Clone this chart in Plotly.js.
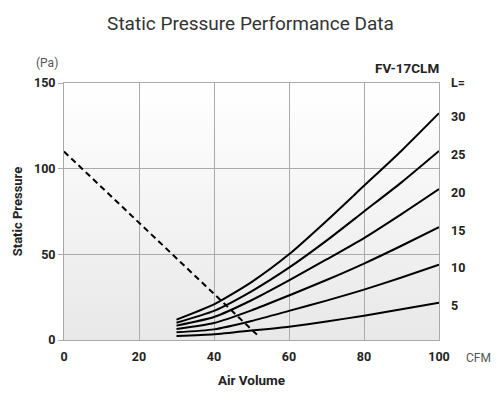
<!DOCTYPE html>
<html>
<head>
<meta charset="utf-8">
<script src="https://cdn.plot.ly/plotly-3.0.1.min.js"></script>
<style>html,body{margin:0;padding:0;background:#fff;}#chart{width:501px;height:394px;}</style>
</head>
<body>
<div id="chart"></div>
<script>
// Air volume (CFM) sample points
const airVolume = [30, 40, 50, 60, 70, 80, 90, 100];
// Static pressure (Pa) for each duct length L
const lengthLabels = ["30", "25", "20", "15", "10", "5"];
const pL30 = [11.9, 20.8, 33.8, 50.0, 69.5, 90.0, 110.5, 132.4];
const pL25 = [10.1, 17.0, 28.4, 42.2, 58.0, 75.0, 92.0, 110.3];
const pL20 = [8.4, 13.4, 23.2, 34.8, 47.0, 59.5, 73.5, 88.1];
const pL15 = [6.4, 9.9, 17.3, 26.0, 35.0, 44.6, 55.0, 65.9];
const pL10 = [4.5, 6.2, 11.1, 17.0, 23.0, 29.4, 36.5, 44.0];
const pL5  = [2.3, 3.3, 5.5, 7.8, 10.8, 14.2, 18.0, 21.8];
// Fan performance (dashed line)
const fanX = [0, 52];
const fanY = [110, 2];
// Axis ticks
const xTicks = [0, 20, 40, 60, 80, 100];
const yTicks = [0, 50, 100, 150];

const curves = [pL30, pL25, pL20, pL15, pL10, pL5];
const FONT = "Roboto, 'DejaVu Sans', sans-serif";

const traces = curves.map((ys, i) => ({
  x: airVolume, y: ys, type: 'scatter', mode: 'lines',
  line: {color: '#000', width: 2, shape: 'spline', smoothing: 0.6},
  hoverinfo: 'skip', showlegend: false
}));
traces.push({
  x: fanX, y: fanY, type: 'scatter', mode: 'lines',
  line: {color: '#000', width: 2, dash: '6px,4px'},
  hoverinfo: 'skip', showlegend: false
});

const svg = '<svg xmlns="http://www.w3.org/2000/svg" width="100" height="100" preserveAspectRatio="none">' +
  '<defs><linearGradient id="g" x1="0" y1="0" x2="0" y2="1">' +
  '<stop offset="0" stop-color="#ffffff"/><stop offset="0.15" stop-color="#fcfcfc"/>' +
  '<stop offset="1" stop-color="#e8e8e8"/></linearGradient></defs>' +
  '<rect width="100" height="100" fill="url(#g)"/></svg>';
const bgSrc = 'data:image/svg+xml;charset=utf-8,' + encodeURIComponent(svg);

const annotations = [
  {text: '(Pa)', xref: 'paper', yref: 'paper', x: -0.045, y: 1.0, yshift: 20, xanchor: 'center', yanchor: 'middle', showarrow: false, font: {family: FONT, size: 12, color: '#555'}},
  {text: '<b>FV-17CLM</b>', xref: 'paper', yref: 'paper', x: 1.0, xshift: 2, y: 1.0, yshift: 15, xanchor: 'right', yanchor: 'middle', showarrow: false, font: {family: FONT, size: 13.5, color: '#222'}},
  {text: '<b>L=</b>', xref: 'paper', yref: 'paper', x: 1.0, xshift: 10, y: 1.0, yshift: 1, xanchor: 'left', yanchor: 'middle', showarrow: false, font: {family: FONT, size: 12.5, color: '#222'}},
  {text: 'CFM', xref: 'paper', yref: 'paper', x: 1.0, xshift: 25, y: 0, yshift: -18, xanchor: 'left', yanchor: 'middle', showarrow: false, font: {family: FONT, size: 12, color: '#555'}}
];
curves.forEach((ys, i) => {
  annotations.push({
    text: '<b>' + lengthLabels[i] + '</b>', xref: 'paper', yref: 'y',
    x: 1.0, xshift: 10, y: ys[ys.length - 1], yshift: -3,
    xanchor: 'left', yanchor: 'middle', showarrow: false,
    font: {family: FONT, size: 12.5, color: '#222'}
  });
});

const layout = {
  width: 501, height: 394,
  margin: {l: 64, r: 62, t: 83, b: 54},
  paper_bgcolor: '#ffffff',
  plot_bgcolor: 'rgba(0,0,0,0)',
  font: {family: FONT, color: '#222'},
  title: {text: 'Static Pressure Performance Data', x: 0.5, xanchor: 'center', y: 0.94, yanchor: 'middle',
          font: {family: FONT, size: 19, color: '#333'}},
  xaxis: {
    range: [0, 100], tickvals: xTicks, ticktext: xTicks.map(String),
    showgrid: true, gridcolor: '#aaaaaa', gridwidth: 1, zeroline: false,
    showline: true, linecolor: '#aaaaaa', linewidth: 1, mirror: true,
    ticks: '', ticklabelstandoff: 5,
    tickfont: {family: FONT, size: 12.5, color: '#222', weight: 'bold'},
    title: {text: '<b>Air Volume</b>', font: {family: FONT, size: 13.5, color: '#222'}, standoff: 12},
    fixedrange: true
  },
  yaxis: {
    range: [0, 150], tickvals: yTicks, ticktext: yTicks.map(String),
    showgrid: true, gridcolor: '#aaaaaa', gridwidth: 1, zeroline: false,
    showline: true, linecolor: '#aaaaaa', linewidth: 1, mirror: true,
    ticks: 'outside', ticklen: 5, tickcolor: '#aaaaaa',
    tickfont: {family: FONT, size: 12.5, color: '#222', weight: 'bold'},
    title: {text: '<b>Static Pressure</b>', font: {family: FONT, size: 13, color: '#222'}, standoff: 8},
    fixedrange: true
  },
  images: [{source: bgSrc, xref: 'paper', yref: 'paper', x: 0, y: 1, sizex: 1, sizey: 1,
            xanchor: 'left', yanchor: 'top', sizing: 'stretch', layer: 'below'}],
  annotations: annotations,
  showlegend: false
};

Plotly.newPlot('chart', traces, layout, {displayModeBar: false, staticPlot: true});
</script>
</body>
</html>
